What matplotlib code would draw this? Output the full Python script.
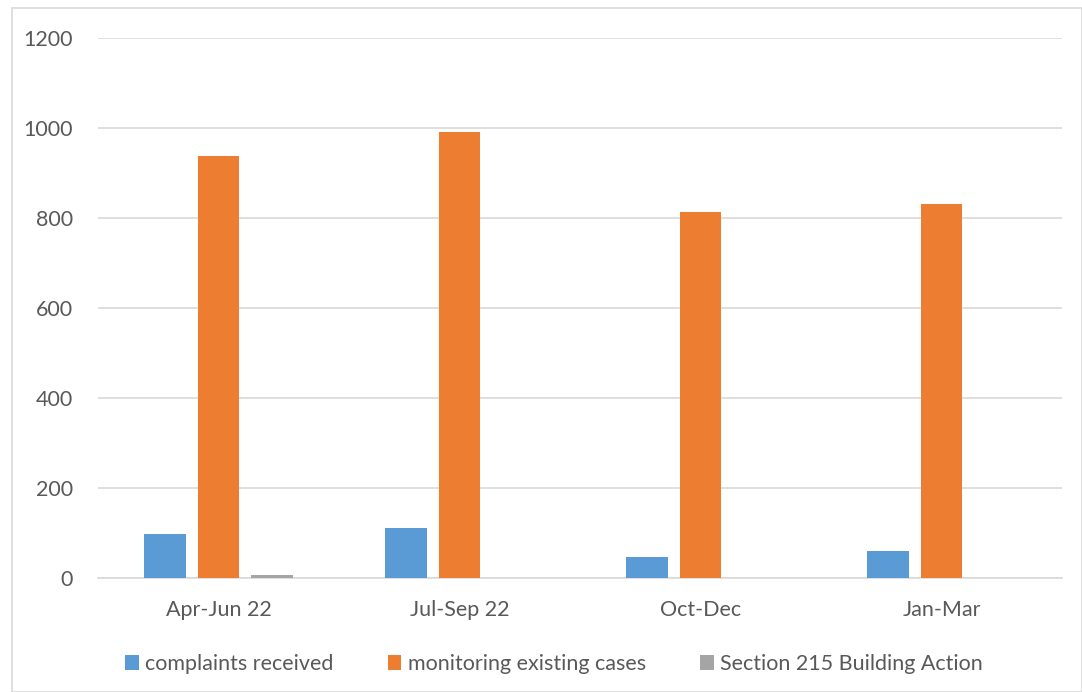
import numpy as np
import matplotlib.pyplot as plt
from matplotlib.patches import Rectangle

categories = ['Apr-Jun 22', 'Jul-Sep 22', 'Oct-Dec', 'Jan-Mar']
complaints = [98, 112, 46, 60]
monitoring = [937, 991, 813, 831]
section215 = [7, 0, 0, 0]

series_names = ['complaints received', 'monitoring existing cases', 'Section 215 Building Action']
colors = ['#5b9bd5', '#ed7d31', '#a5a5a5']

plt.rcParams['font.family'] = ['Lato', 'DejaVu Sans']

fig = plt.figure(figsize=(10.82, 6.92), dpi=100)
ax = fig.add_axes([0.0906, 0.1647, 0.8909, 0.7808])

x = np.arange(len(categories))
width = 0.174
step = 0.222
for i, (vals, name, c) in enumerate(zip([complaints, monitoring, section215], series_names, colors)):
    ax.bar(x + (i - 1) * step, vals, width, color=c, label=name, zorder=3)

ax.set_xlim(-0.5, len(categories) - 0.5)
ax.set_ylim(0, 1200)
ax.set_yticks(range(0, 1201, 200))
ax.grid(axis='y', color='#d9d9d9', linewidth=1.2, zorder=0)
for s in ['top', 'right', 'left']:
    ax.spines[s].set_visible(False)
ax.spines['bottom'].set_color('#d9d9d9')
ax.spines['bottom'].set_linewidth(1.2)
ax.set_xticks(x)
ax.set_xticklabels(categories)
ax.tick_params(axis='both', length=0, labelsize=15.5, labelcolor='#595959')
ax.tick_params(axis='y', pad=18)
ax.tick_params(axis='x', pad=16)

ax.legend(loc='upper center', bbox_to_anchor=(0.473, -0.105), ncol=3, frameon=False,
          fontsize=15.5, labelcolor='#595959', handlelength=0.65, handleheight=0.65,
          handletextpad=0.3, columnspacing=2.5)

fig.patches.append(Rectangle((12 / 1082, 0), 1 - 12 / 1082, 1 - 8 / 692,
                             transform=fig.transFigure, fill=False,
                             edgecolor='#d9d9d9', linewidth=1.2))

fig.savefig('out.png', dpi=100)
